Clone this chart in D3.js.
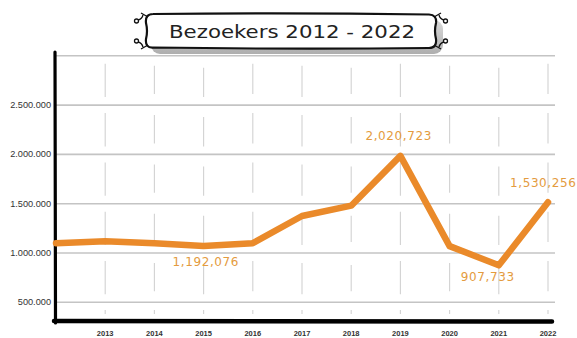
<!DOCTYPE html>
<html>
<head>
<meta charset="utf-8">
<script src="https://cdn.jsdelivr.net/npm/d3@7"></script>
<style>
  body { margin: 0; background: #fff; }
  svg { display: block; }
</style>
</head>
<body>
<div id="chart"></div>
<script>
// data
const years = [2012, 2013, 2014, 2015, 2016, 2017, 2018, 2019, 2020, 2021, 2022];
const visitors = [1100000, 1120000, 1100000, 1070000, 1100000, 1375000, 1480000, 1985000, 1070000, 875000, 1515000];
const yTicks = [500000, 1000000, 1500000, 2000000, 2500000, 3000000];
const callouts = [
  { year: 2015, text: '1,192,076', dx: -31, dy: 20 },
  { year: 2019, text: '2,020,723', dx: -35, dy: -16 },
  { year: 2021, text: '907,733', dx: -38, dy: 16 },
  { year: 2022, text: '1,530,256', dx: -38, dy: -15 }
];
const title = 'Bezoekers 2012 - 2022';

const W = 577, H = 338;
const svg = d3.select('#chart').append('svg').attr('width', W).attr('height', H);

const x = d3.scaleLinear().domain([2012, 2022]).range([56, 548]);
const y = d3.scaleLinear().domain([0, 3000000]).range([351.6, 55.8]);
const axisBottomY = 321;
const gridRight = 555;

const fmt = d => d3.format(',')(d).replace(/,/g, '.');

// title shadow sits behind the top grid line
const box = { x: 145, y: 14, w: 292, h: 34 };
const shade = svg.append('defs').append('linearGradient').attr('id', 'shade')
  .attr('x1', 0).attr('x2', 0).attr('y1', 0).attr('y2', 1);
shade.append('stop').attr('offset', 0).attr('stop-color', '#d0d0d0');
shade.append('stop').attr('offset', 1).attr('stop-color', '#9a9a9a');
svg.append('rect')
  .attr('x', box.x + 6).attr('y', box.y + 6)
  .attr('width', box.w).attr('height', box.h)
  .attr('rx', 9).attr('fill', 'url(#shade)').attr('opacity', 0.8);

// horizontal grid
svg.append('g').selectAll('line')
  .data(yTicks)
  .enter().append('line')
  .attr('x1', x(2012)).attr('x2', gridRight)
  .attr('y1', d => y(d)).attr('y2', d => y(d))
  .attr('stroke', '#c4c4c4').attr('stroke-width', 1.6);

// vertical broken grid, one piece per band
const bands = d3.pairs(yTicks.slice().reverse().concat([0]));
const vg = svg.append('g');
years.slice(1).forEach((yr, i) => {
  bands.forEach(([top, bot]) => {
    const y0 = bot === 0 ? axisBottomY - 11 : y(top) + 8 + (i % 3) * 2;
    const y1 = bot === 0 ? axisBottomY - 7 : y(bot) - 8 - (i % 2) * 3;
    vg.append('line')
      .attr('x1', x(yr)).attr('x2', x(yr))
      .attr('y1', y0).attr('y2', y1)
      .attr('stroke', '#d2d2d2').attr('stroke-width', 1.1);
  });
});

// y labels
svg.append('g').selectAll('text')
  .data(yTicks.filter(d => d < 3000000))
  .enter().append('text')
  .attr('x', 51).attr('y', d => y(d) + 3)
  .attr('text-anchor', 'end')
  .attr('font-family', 'Liberation Sans, Arial, sans-serif')
  .attr('font-size', 9.2)
  .attr('fill', '#333')
  .text(fmt);

// x labels
svg.append('g').selectAll('text')
  .data(years.slice(1))
  .enter().append('text')
  .attr('x', d => x(d)).attr('y', 336)
  .attr('text-anchor', 'middle')
  .attr('font-family', 'Liberation Sans, Arial, sans-serif')
  .attr('font-size', 7.5)
  .attr('font-weight', 'bold')
  .attr('fill', '#333')
  .text(d => d);

// axes lines (thick, hand drawn look)
svg.append('line')
  .attr('x1', x(2012) - 1).attr('x2', x(2012) - 0.5)
  .attr('y1', 52).attr('y2', axisBottomY + 2)
  .attr('stroke', '#000').attr('stroke-width', 3.2).attr('stroke-linecap', 'round');
svg.append('line')
  .attr('x1', x(2012) - 2).attr('x2', 552)
  .attr('y1', axisBottomY).attr('y2', axisBottomY + 0.5)
  .attr('stroke', '#000').attr('stroke-width', 4.5).attr('stroke-linecap', 'round');

// the line
const line = d3.line().x((d, i) => x(years[i])).y(d => y(d));
svg.append('path')
  .datum(visitors)
  .attr('d', line)
  .attr('fill', 'none')
  .attr('stroke', '#ea8a2a')
  .attr('stroke-width', 6.5)
  .attr('stroke-linejoin', 'round')
  .attr('stroke-linecap', 'round');

// callouts
svg.append('g').selectAll('text')
  .data(callouts)
  .enter().append('text')
  .attr('x', d => x(d.year) + d.dx)
  .attr('y', d => y(visitors[years.indexOf(d.year)]) + d.dy)
  .attr('font-family', 'DejaVu Sans, sans-serif')
  .attr('font-size', 12)
  .attr('letter-spacing', 0.6)
  .attr('fill', '#e49b3e')
  .text(d => d.text);

// title box, sides pinched a little like a drawn bracket
const bx0 = box.x, bx1 = box.x + box.w, by0 = box.y, by1 = box.y + box.h, my = (by0 + by1) / 2;
const p = d3.path();
p.moveTo(bx0 + 8, by0);
p.quadraticCurveTo((bx0 + bx1) / 2, by0 - 1.5, bx1 - 8, by0 + 0.5);
p.quadraticCurveTo(bx1, by0 + 1, bx1 - 1, by0 + 9);
p.quadraticCurveTo(bx1 - 3, my, bx1 - 1, by1 - 9);
p.quadraticCurveTo(bx1, by1, bx1 - 8, by1);
p.quadraticCurveTo((bx0 + bx1) / 2, by1 + 1.5, bx0 + 8, by1 - 0.5);
p.quadraticCurveTo(bx0, by1, bx0 + 1, by1 - 9);
p.quadraticCurveTo(bx0 + 3, my, bx0 + 1, by0 + 9);
p.quadraticCurveTo(bx0, by0, bx0 + 8, by0);
svg.append('path')
  .attr('d', p.toString())
  .attr('fill', '#fff')
  .attr('stroke', '#111').attr('stroke-width', 2.2);

// little corner doodles
const corners = [
  [bx0, by0, -1, -1], [bx1, by0, 1, -1],
  [bx0, by1, -1, 1], [bx1, by1, 1, 1]
];
const cg = svg.append('g').attr('stroke', '#111').attr('fill', '#fff').attr('stroke-width', 1.3);
corners.forEach(([cx, cy, sx, sy]) => {
  cg.append('path')
    .attr('fill', 'none')
    .attr('d', `M${cx + 2 * sx},${cy - 1 * sy} Q${cx + 3 * sx},${cy - 5 * sy} ${cx + 7 * sx},${cy - 6 * sy}`);
  cg.append('line')
    .attr('x1', cx - 3 * sx).attr('y1', cy - 3 * sy)
    .attr('x2', cx + 4 * sx).attr('y2', cy + 1 * sy);
  cg.append('circle').attr('cx', cx + 8.5 * sx).attr('cy', cy - 7 * sy).attr('r', 2);
});

svg.append('text')
  .attr('x', (bx0 + bx1) / 2 + 1).attr('y', box.y + 24)
  .attr('text-anchor', 'middle')
  .attr('font-family', 'DejaVu Sans, sans-serif')
  .attr('font-size', 17)
  .attr('textLength', 246)
  .attr('lengthAdjust', 'spacingAndGlyphs')
  .attr('fill', '#222')
  .text(title);
</script>
</body>
</html>
